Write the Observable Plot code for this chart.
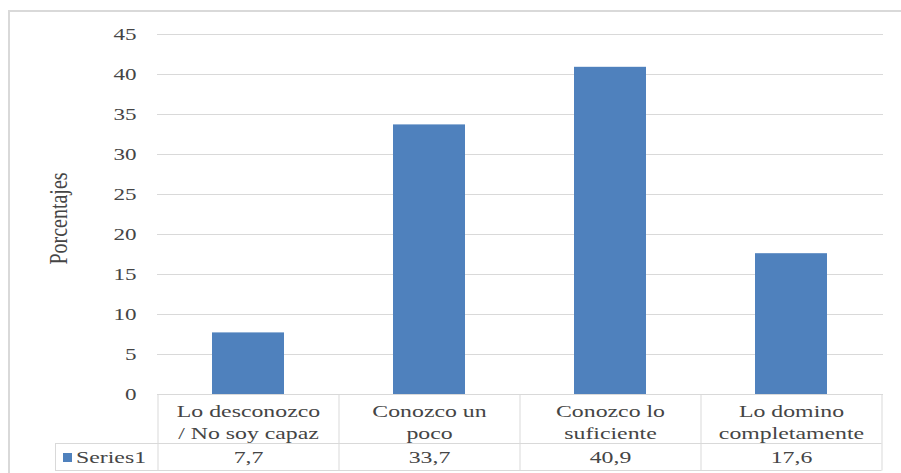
<!DOCTYPE html>
<html>
<head>
<meta charset="utf-8">
<script src="https://cdn.jsdelivr.net/npm/d3@7"></script>
<script src="https://cdn.jsdelivr.net/npm/@observablehq/plot@0.6"></script>
<style>
  html, body { margin: 0; padding: 0; background: #fff; }
  #chart { width: 901px; height: 473px; overflow: hidden; }
  #chart svg, #chart svg text, #chart svg tspan { font-family: "Liberation Serif", "DejaVu Serif", serif !important; }
</style>
</head>
<body>
<div id="chart"></div>
<script>
const categories = ["Lo desconozco\n/ No soy capaz", "Conozco un\npoco", "Conozco lo\nsuficiente", "Lo domino\ncompletamente"];
const values = [7.7, 33.7, 40.9, 17.6];
const valueLabels = ["7,7", "33,7", "40,9", "17,6"];
const yTicks = [0, 5, 10, 15, 20, 25, 30, 35, 40, 45];
const seriesName = "Series1";
const yTitle = "Porcentajes";

const data = categories.map((c, i) => ({cat: c, value: values[i], label: valueLabels[i]}));

const textColor = "#454545";
const gridColor = "#D9D9D9";
const barColor = "#4F81BD";
const font = "Liberation Serif, serif";

const chart = Plot.plot({
  width: 901,
  height: 473,
  marginTop: 34,
  marginBottom: 79,
  marginLeft: 157,
  marginRight: 18,
  style: {fontFamily: font, background: "#fff", overflow: "visible"},
  x: {domain: categories, paddingInner: 0.6, paddingOuter: 0.3, axis: null},
  y: {domain: [0, 45], axis: null},
  marks: [
    Plot.gridY(yTicks, {stroke: gridColor, strokeOpacity: 1, strokeWidth: 1}),
    Plot.axisY(yTicks, {tickSize: 0, tickPadding: 21, dy: 5, fontSize: 16.5, fill: textColor, label: null, textAnchor: "end"}),
    Plot.barY(data, {x: "cat", y: "value", fill: barColor}),
    Plot.text([yTitle], {frameAnchor: "left", dx: -91, dy: 4, rotate: -90, textAnchor: "middle", fontSize: 20, fill: textColor, text: d => d}),
    Plot.text(data, {x: "cat", y: 0, dy: 26, text: "cat", fontSize: 17, lineHeight: 1.3, lineAnchor: "middle", textAnchor: "middle", fill: textColor}),
    Plot.text(data, {x: "cat", y: 0, dy: 68, text: "label", fontSize: 17, lineAnchor: "middle", textAnchor: "middle", fill: textColor})
  ]
});

document.getElementById("chart").appendChild(chart);

// data table lines using the Plot scales
const svg = d3.select(chart);
const xs = chart.scale("x");
const ys = chart.scale("y");
const y0 = ys.apply(0);
const gap = (xs.step - xs.bandwidth) / 2;
const bounds = categories.map(c => xs.apply(c) - gap);
bounds.push(xs.apply(categories[categories.length - 1]) + xs.bandwidth + gap);
const rowMid = y0 + 49;
const rowBot = y0 + 76;
const legendLeft = 55;
const tbl = svg.append("g").attr("stroke", gridColor).attr("stroke-width", 1).attr("fill", "none");
tbl.append("line").attr("x1", legendLeft).attr("x2", bounds[bounds.length - 1]).attr("y1", rowMid + 0.5).attr("y2", rowMid + 0.5);
tbl.append("line").attr("x1", legendLeft).attr("x2", bounds[bounds.length - 1]).attr("y1", rowBot + 0.5).attr("y2", rowBot + 0.5);
bounds.forEach(b => {
  tbl.append("line").attr("x1", b + 0.5).attr("x2", b + 0.5).attr("y1", y0).attr("y2", rowBot + 0.5);
});
tbl.append("line").attr("x1", legendLeft + 0.5).attr("x2", legendLeft + 0.5).attr("y1", rowMid).attr("y2", rowBot + 0.5);

// legend key + series name
svg.append("rect").attr("x", 63).attr("y", rowMid + 10).attr("width", 9).attr("height", 9).attr("fill", barColor);
svg.append("text").attr("x", 76).attr("y", rowMid + 14).attr("dy", "0.35em").attr("text-anchor", "start")
  .attr("font-size", 17).attr("fill", textColor).text(seriesName);

// outer chart border
svg.append("rect").attr("x", 9).attr("y", 11).attr("width", 905).attr("height", 480)
  .attr("fill", "none").attr("stroke", gridColor).attr("stroke-width", 2);

// horizontally stretched text, as in the reference picture
svg.selectAll("text").each(function() {
  const el = this;
  const x = el.getAttribute("x"), y = el.getAttribute("y");
  let t = el.getAttribute("transform") || "";
  if (x !== null || y !== null) {
    t = `translate(${+x || 0},${+y || 0}) ` + t;
    el.removeAttribute("x");
    el.removeAttribute("y");
  }
  const isRot = /rotate/.test(t);
  el.setAttribute("transform", t + (isRot ? " scale(1,1.3)" : " scale(1.4,1)"));
});
</script>
</body>
</html>
